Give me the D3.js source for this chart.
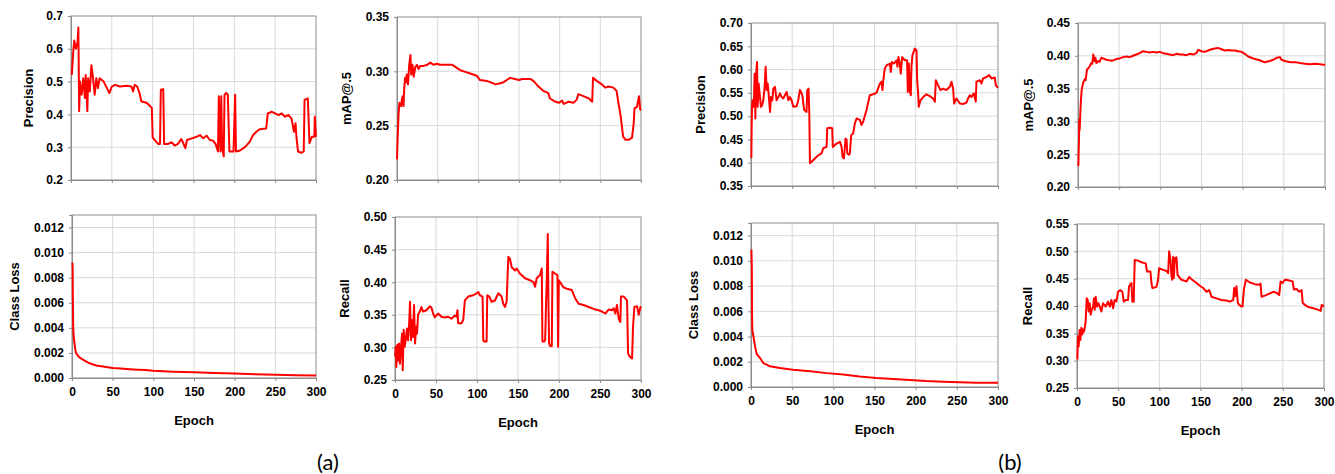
<!DOCTYPE html>
<html>
<head>
<meta charset="utf-8">
<script src="https://cdn.jsdelivr.net/npm/d3@7"></script>
<style>
  body { margin: 0; background: #fff; }
  svg { display: block; }
  .tick text { font-family: "Liberation Sans", Arial, sans-serif; font-weight: bold; font-size: 12px; fill: #000; }
  .title { font-family: "Liberation Sans", Arial, sans-serif; font-weight: bold; font-size: 13px; fill: #000; }
  .caption { font-family: Lato, "Open Sans", sans-serif; font-size: 22px; fill: #000; }
</style>
</head>
<body>
<svg width="1335" height="474"></svg>
<script>
// values, [epoch, value]
const precisionA = [[1,0.52],[3,0.60],[4,0.625],[6,0.60],[8,0.62],[9,0.665],[10,0.41],[11,0.50],[13,0.46],[15,0.51],[17,0.45],[18,0.52],[20,0.41],[21,0.51],[23,0.47],[25,0.55],[27,0.51],[29,0.46],[31,0.51],[33,0.48],[35,0.51],[38,0.505],[40,0.50],[44,0.48],[47,0.465],[50,0.485],[54,0.49],[60,0.485],[68,0.487],[74,0.485],[76,0.47],[78,0.49],[81,0.485],[84,0.465],[86,0.44],[93,0.435],[99,0.42],[100,0.33],[103,0.32],[107,0.31],[109,0.31],[110,0.475],[113,0.477],[114,0.31],[119,0.31],[123,0.315],[127,0.305],[131,0.31],[135,0.325],[137,0.315],[140,0.297],[142,0.322],[148,0.327],[154,0.332],[158,0.337],[162,0.327],[166,0.335],[170,0.322],[174,0.32],[177,0.31],[180,0.287],[181,0.455],[183,0.287],[184,0.455],[185,0.30],[187,0.272],[188,0.46],[190,0.465],[192,0.46],[194,0.287],[199,0.287],[201,0.46],[202,0.287],[207,0.29],[213,0.30],[219,0.317],[223,0.337],[227,0.347],[231,0.355],[239,0.357],[241,0.403],[246,0.408],[250,0.403],[254,0.398],[258,0.403],[262,0.393],[266,0.398],[270,0.388],[273,0.347],[275,0.373],[276,0.332],[278,0.287],[282,0.283],[285,0.287],[286,0.444],[290,0.449],[292,0.312],[295,0.332],[298,0.332],[298.5,0.393],[300,0.332]];

const mapA = [[0,0.219],[1,0.243],[2,0.262],[3,0.271],[5,0.268],[6,0.274],[7,0.277],[8,0.268],[9,0.286],[10,0.294],[11.5,0.29],[12,0.297],[13.5,0.288],[15,0.306],[16.5,0.315],[17.5,0.297],[19,0.306],[20.5,0.295],[22.5,0.304],[24.5,0.306],[26.5,0.302],[28.5,0.305],[33,0.305],[37,0.306],[41,0.308],[45,0.306],[49,0.307],[53,0.306],[61,0.306],[68,0.306],[70,0.305],[74,0.303],[78,0.301],[82,0.30],[90,0.298],[98,0.296],[102,0.292],[111,0.291],[115,0.290],[121,0.288],[127,0.289],[131,0.290],[135,0.292],[139,0.294],[145,0.293],[150,0.292],[154,0.293],[164,0.293],[168,0.291],[174,0.286],[180,0.282],[186,0.28],[188,0.275],[195,0.272],[199,0.271],[203,0.273],[205,0.270],[211,0.272],[217,0.271],[221,0.274],[223,0.279],[230,0.277],[236,0.275],[240,0.272],[241,0.294],[246,0.291],[252,0.288],[256,0.285],[260,0.286],[266,0.285],[270,0.282],[272,0.272],[275,0.259],[278,0.24],[281,0.237],[285,0.237],[289,0.239],[291,0.252],[292,0.266],[295,0.267],[297.5,0.277],[299,0.265],[300,0.264]];

const lossA = [[0.5,0.0092],[0.8,0.0088],[1,0.0065],[1.5,0.004],[2,0.0034],[3,0.0028],[4,0.0023],[5,0.002],[7,0.0018],[10,0.0016],[15,0.0014],[20,0.00122],[25,0.0011],[30,0.001],[40,0.0009],[50,0.0008],[60,0.00075],[75,0.00068],[90,0.00063],[100,0.00058],[125,0.0005],[150,0.00045],[175,0.0004],[200,0.00035],[225,0.0003],[250,0.00025],[275,0.00021],[300,0.0002]];

const recallA = [[0,0.286],[1,0.301],[1.6,0.27],[2.9,0.304],[4,0.28],[4.9,0.306],[6,0.275],[7.3,0.301],[8.6,0.321],[9.4,0.265],[10.6,0.327],[11.8,0.301],[13,0.311],[14.7,0.329],[15.9,0.311],[17.1,0.332],[18.3,0.37],[19.6,0.311],[20.8,0.342],[22,0.316],[23.2,0.365],[24.5,0.306],[25.7,0.332],[26.9,0.321],[28.1,0.35],[30.2,0.355],[32.2,0.362],[34.2,0.355],[38.3,0.357],[42.4,0.363],[44.4,0.361],[46.5,0.352],[48.5,0.346],[52.6,0.352],[56.7,0.347],[60.7,0.346],[64.8,0.347],[68.9,0.344],[73,0.349],[75,0.347],[76.2,0.357],[77,0.337],[81,0.337],[83.2,0.342],[85.2,0.372],[89.3,0.378],[95.4,0.38],[99.5,0.383],[101.5,0.385],[103.6,0.38],[106.8,0.378],[107.6,0.311],[108.9,0.309],[111.7,0.309],[112.5,0.38],[115,0.378],[117.8,0.37],[121.9,0.372],[126,0.383],[130,0.378],[132,0.367],[134.1,0.362],[136.1,0.37],[138.2,0.439],[140.2,0.436],[142.3,0.423],[146.4,0.418],[148.4,0.421],[152.5,0.413],[158.6,0.406],[164.7,0.403],[168.8,0.40],[170.8,0.393],[172.8,0.406],[176.9,0.411],[179,0.421],[179.8,0.309],[181.8,0.309],[183.1,0.311],[184.3,0.372],[185.1,0.403],[186.3,0.474],[187.1,0.372],[187.9,0.306],[189.2,0.302],[191.2,0.302],[192,0.416],[195.3,0.413],[198.1,0.411],[198.9,0.301],[199.8,0.403],[201.4,0.40],[205.5,0.392],[209.6,0.39],[215.7,0.388],[219.8,0.375],[223.9,0.367],[230,0.365],[236.1,0.362],[242.2,0.359],[248.3,0.357],[252.4,0.355],[256.5,0.352],[260.5,0.358],[264.6,0.357],[266.7,0.36],[268.7,0.352],[270.7,0.365],[272.8,0.344],[274.8,0.339],[275.6,0.378],[278.9,0.378],[283,0.372],[284.2,0.291],[286.2,0.286],[289.1,0.283],[290.3,0.332],[291.9,0.362],[295.2,0.363],[297.2,0.35],[299.3,0.362],[300,0.36]];

const precisionB = [[0.4,0.41],[0.8,0.477],[1.2,0.52],[2,0.534],[2.8,0.52],[3.6,0.534],[4.4,0.591],[5.3,0.495],[6.1,0.584],[7.3,0.616],[8.1,0.52],[9.3,0.57],[10.9,0.541],[12.1,0.52],[13.7,0.524],[14.9,0.534],[16.6,0.563],[17.8,0.606],[19,0.556],[20.2,0.57],[21.4,0.549],[23.1,0.509],[24.3,0.541],[25.9,0.534],[27.1,0.559],[29.1,0.563],[31.1,0.534],[33.2,0.541],[35.2,0.549],[37.2,0.541],[39.2,0.538],[41.2,0.545],[43.3,0.552],[45.3,0.534],[47.3,0.541],[49.3,0.534],[51.4,0.52],[55.4,0.521],[57.4,0.534],[59.4,0.556],[61.5,0.549],[62.7,0.541],[63.5,0.527],[64.7,0.513],[67.5,0.509],[68.3,0.556],[69.9,0.559],[70.8,0.506],[71.6,0.399],[73.6,0.402],[77.6,0.409],[81.7,0.416],[85.7,0.42],[87.7,0.431],[91.8,0.434],[92.6,0.474],[95.8,0.475],[98.6,0.474],[99.4,0.434],[103.9,0.441],[108,0.445],[110,0.434],[111.2,0.413],[112.8,0.409],[114.9,0.452],[116.1,0.449],[116.9,0.42],[118.9,0.417],[120.1,0.42],[121.7,0.459],[124.1,0.463],[126.1,0.484],[128.2,0.495],[132.2,0.492],[134.2,0.481],[136.2,0.488],[140.3,0.513],[144.3,0.545],[148.4,0.547],[152.4,0.55],[156.5,0.57],[158.5,0.574],[159.7,0.556],[160.5,0.574],[162.5,0.602],[164.6,0.609],[168.6,0.613],[169.8,0.595],[171,0.616],[173.5,0.613],[176.7,0.62],[177.9,0.606],[179.1,0.627],[180.7,0.613],[181.9,0.591],[183.6,0.627],[184.8,0.624],[186.8,0.62],[189.6,0.62],[190.5,0.552],[191.7,0.613],[192.9,0.556],[194.1,0.545],[194.9,0.606],[196.1,0.631],[199,0.645],[201,0.641],[201.8,0.577],[203,0.549],[203.8,0.52],[205.8,0.534],[209.1,0.541],[213.1,0.547],[217.2,0.543],[221.2,0.538],[223.3,0.531],[224.5,0.577],[227.3,0.566],[230.1,0.556],[233.4,0.559],[237.4,0.556],[241.5,0.563],[243.5,0.574],[245.5,0.559],[246.7,0.527],[249.6,0.538],[253.6,0.527],[257.7,0.526],[261.7,0.529],[263.7,0.538],[265.7,0.545],[267.8,0.541],[270.6,0.549],[273,0.531],[273.8,0.574],[277.9,0.577],[279.9,0.57],[281.9,0.581],[286,0.584],[289.2,0.588],[292,0.581],[296.1,0.583],[297.3,0.566],[300,0.561]];

const mapB = [[0.4,0.232],[1.2,0.272],[1.6,0.303],[2,0.287],[2.8,0.313],[3.6,0.333],[4.5,0.348],[5.7,0.356],[6.9,0.361],[8.1,0.364],[9.3,0.363],[10.9,0.379],[12.6,0.381],[14.2,0.384],[16.2,0.389],[17.4,0.388],[18.6,0.402],[19.9,0.392],[21.1,0.397],[22.3,0.389],[24.3,0.392],[26.3,0.391],[28.4,0.397],[30.4,0.396],[34.5,0.394],[38.5,0.393],[42.6,0.393],[46.6,0.395],[50.7,0.396],[54.7,0.398],[58.8,0.399],[62.8,0.398],[66.9,0.40],[70.9,0.402],[75,0.404],[79,0.407],[83.1,0.406],[87.1,0.405],[91.2,0.406],[95.2,0.405],[99.3,0.406],[103.3,0.404],[107.4,0.403],[111.4,0.402],[115.5,0.401],[119.5,0.403],[123.6,0.402],[127.6,0.402],[131.7,0.401],[135.7,0.403],[139.8,0.402],[143.9,0.404],[145.9,0.409],[147.9,0.408],[149.9,0.407],[154,0.406],[158.1,0.408],[162.1,0.41],[166.2,0.411],[170.2,0.412],[174.3,0.41],[178.3,0.408],[182.4,0.409],[186.4,0.408],[190.5,0.408],[194.5,0.407],[198.6,0.406],[202.6,0.403],[206.7,0.399],[210.7,0.397],[214.8,0.395],[218.8,0.394],[222.9,0.392],[226.9,0.39],[229,0.391],[233,0.392],[237.1,0.394],[241.1,0.397],[245.2,0.398],[247.2,0.394],[251.3,0.392],[255.3,0.391],[259.4,0.39],[265.4,0.39],[269.5,0.389],[275.6,0.388],[281.7,0.387],[287.8,0.388],[293.9,0.387],[300,0.386]];

const lossB = [[0.5,0.0109],[1,0.0095],[1.2,0.0061],[1.6,0.0045],[3,0.004],[5,0.0032],[7,0.0026],[11,0.0023],[15,0.0019],[19,0.00177],[23,0.00164],[35,0.0015],[51,0.00137],[72,0.00124],[92,0.0011],[112,0.001],[132,0.00084],[152,0.00071],[173,0.00063],[193,0.00055],[213,0.00047],[233,0.00042],[253,0.00037],[274,0.00034],[300,0.00034]];

const recallB = [[0.4,0.302],[1.2,0.344],[2,0.326],[3.2,0.356],[4.1,0.338],[5.3,0.36],[6.5,0.348],[7.3,0.357],[8.5,0.353],[9.7,0.363],[10.5,0.372],[11.8,0.414],[13,0.411],[14.2,0.39],[15.4,0.405],[16.6,0.384],[17.8,0.393],[19.5,0.399],[20.7,0.414],[21.5,0.393],[22.7,0.417],[24.3,0.399],[25.9,0.405],[27.6,0.399],[29.6,0.39],[31.6,0.405],[34.9,0.399],[37.7,0.408],[39.8,0.399],[41.8,0.411],[43.8,0.396],[45.8,0.411],[47.8,0.408],[49.9,0.426],[52.7,0.429],[55.1,0.426],[56.8,0.408],[59.2,0.411],[62,0.411],[63.2,0.436],[66.1,0.442],[67.3,0.408],[68.9,0.408],[70.1,0.484],[74.2,0.483],[78.2,0.48],[83.5,0.478],[85.1,0.463],[89.2,0.463],[90.4,0.442],[91.6,0.433],[96.5,0.435],[98.5,0.448],[99.7,0.469],[104.6,0.466],[108.7,0.464],[110.7,0.46],[111.9,0.5],[113.5,0.485],[114.7,0.455],[115.6,0.448],[116.8,0.49],[117.6,0.451],[118.8,0.487],[120.8,0.489],[122.1,0.457],[124.1,0.453],[126.9,0.448],[133,0.445],[136.2,0.453],[139.1,0.449],[145.1,0.442],[149.2,0.437],[153.2,0.433],[157.3,0.426],[160.5,0.429],[162.1,0.423],[163.3,0.417],[169.4,0.414],[175.5,0.411],[181.6,0.41],[185.6,0.408],[189.7,0.411],[190.9,0.433],[192.1,0.418],[193.7,0.436],[195.4,0.405],[198.6,0.40],[201,0.399],[202.7,0.43],[205.1,0.448],[210,0.443],[216,0.44],[221.3,0.439],[222.9,0.441],[224.2,0.417],[228.2,0.419],[234.3,0.423],[238.4,0.426],[242.4,0.424],[245.6,0.42],[247.3,0.445],[249.7,0.442],[252.5,0.448],[256.6,0.447],[261.9,0.445],[263.5,0.43],[266.7,0.431],[270,0.426],[272.8,0.429],[274.1,0.406],[276.9,0.402],[281,0.398],[287.1,0.396],[293.2,0.393],[296,0.391],[297.2,0.402],[300,0.399]];

// axis ticks
const epochTicks = [0, 50, 100, 150, 200, 250, 300];
const precisionTicksA = [0.2, 0.3, 0.4, 0.5, 0.6, 0.7];
const mapTicksA = [0.20, 0.25, 0.30, 0.35];
const lossTicks = [0, 0.002, 0.004, 0.006, 0.008, 0.010, 0.012];
const recallTicksA = [0.25, 0.30, 0.35, 0.40, 0.45, 0.50];
const precisionTicksB = [0.35, 0.40, 0.45, 0.50, 0.55, 0.60, 0.65, 0.70];
const mapTicksB = [0.20, 0.25, 0.30, 0.35, 0.40, 0.45];
const recallTicksB = [0.25, 0.30, 0.35, 0.40, 0.45, 0.50, 0.55];

const svg = d3.select("svg");

// one entry per small chart: where it sits and what it shows
const panels = [
  {data: precisionA, ticks: precisionTicksA, top: 0.7, fmt: ".1f", label: "Precision", x: 71, y: 16, w: 245, h: 164, tx: 28, epoch: false},
  {data: mapA, ticks: mapTicksA, top: 0.35, fmt: ".2f", label: "mAP@.5", x: 397, y: 17, w: 244, h: 163, tx: 346, epoch: false},
  {data: lossA, ticks: lossTicks, top: 0.013, fmt: ".3f", label: "Class Loss", x: 72, y: 215, w: 244, h: 163, tx: 14, epoch: true},
  {data: recallA, ticks: recallTicksA, top: 0.50, fmt: ".2f", label: "Recall", x: 395, y: 217, w: 246, h: 163, tx: 344, epoch: true},
  {data: precisionB, ticks: precisionTicksB, top: 0.70, fmt: ".2f", label: "Precision", x: 751, y: 23, w: 247, h: 163, tx: 700, epoch: false},
  {data: mapB, ticks: mapTicksB, top: 0.45, fmt: ".2f", label: "mAP@.5", x: 1078, y: 23, w: 247, h: 164, tx: 1028, epoch: false},
  {data: lossB, ticks: lossTicks, top: 0.013, fmt: ".3f", label: "Class Loss", x: 751, y: 223, w: 247, h: 164, tx: 693, epoch: true},
  {data: recallB, ticks: recallTicksB, top: 0.55, fmt: ".2f", label: "Recall", x: 1077, y: 224, w: 247, h: 164, tx: 1027, epoch: true}
];

panels.forEach(p => {
  const xScale = d3.scaleLinear().domain([0, 300]).range([0, p.w]);
  const yScale = d3.scaleLinear().domain([p.ticks[0], p.top]).range([p.h, 0]);

  const g = svg.append("g").attr("transform", `translate(${p.x},${p.y})`);

  // grid
  g.append("g").selectAll("line.h")
    .data(p.ticks.filter(t => yScale(t) > 0.5 && yScale(t) < p.h - 0.5))
    .enter().append("line")
      .attr("x1", 0).attr("x2", p.w)
      .attr("y1", d => yScale(d)).attr("y2", d => yScale(d))
      .attr("stroke", "#d9d9d9");
  g.append("g").selectAll("line.v")
    .data(epochTicks.slice(1, -1))
    .enter().append("line")
      .attr("x1", d => xScale(d)).attr("x2", d => xScale(d))
      .attr("y1", 0).attr("y2", p.h)
      .attr("stroke", "#d9d9d9");

  // frame
  g.append("rect")
    .attr("width", p.w).attr("height", p.h)
    .attr("fill", "none").attr("stroke", "#8c8c8c");

  // axes
  const yAxis = g.append("g")
    .call(d3.axisLeft(yScale).tickValues(p.ticks).tickFormat(d3.format(p.fmt)).tickSize(3).tickPadding(5));
  const xAxis = g.append("g")
    .attr("transform", `translate(0,${p.h})`)
    .call(d3.axisBottom(xScale).tickValues(epochTicks).tickSize(3).tickPadding(6)
      .tickFormat(p.epoch ? d3.format("d") : () => ""));
  [yAxis, xAxis].forEach(a => {
    a.select(".domain").attr("stroke", "#8c8c8c");
    a.selectAll(".tick line").attr("stroke", "#8c8c8c");
    a.attr("font-family", null).attr("font-size", null);
  });

  // curve
  const line = d3.line().x(d => xScale(d[0])).y(d => yScale(d[1]));
  g.append("path")
    .datum(p.data)
    .attr("d", line)
    .attr("fill", "none")
    .attr("stroke", "#ff0000")
    .attr("stroke-width", 2)
    .attr("stroke-linejoin", "round");

  // y title
  svg.append("text")
    .attr("class", "title")
    .attr("transform", `translate(${p.tx},${p.y + p.h / 2}) rotate(-90)`)
    .attr("text-anchor", "middle")
    .attr("dy", "0.35em")
    .text(p.label);

  if (p.epoch) {
    svg.append("text")
      .attr("class", "title")
      .attr("x", p.x + p.w / 2)
      .attr("y", p.y + p.h + 47)
      .attr("text-anchor", "middle")
      .text("Epoch");
  }
});

// sub-figure captions
svg.append("text").attr("class", "caption").attr("x", 328).attr("y", 470).attr("text-anchor", "middle").text("(a)");
svg.append("text").attr("class", "caption").attr("x", 1010).attr("y", 470).attr("text-anchor", "middle").text("(b)");
</script>
</body>
</html>
